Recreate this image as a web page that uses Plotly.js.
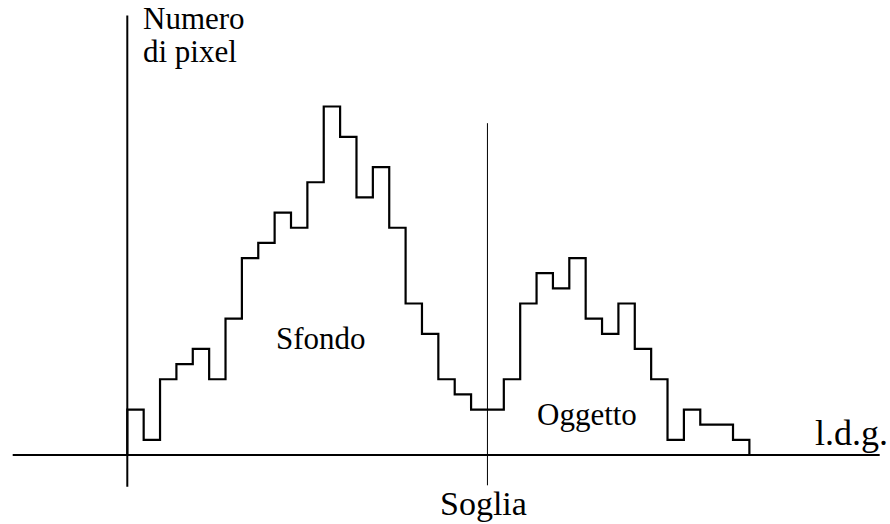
<!DOCTYPE html>
<html>
<head>
<meta charset="utf-8">
<script src="https://cdn.plot.ly/plotly-3.0.1.min.js"></script>
<style>html,body{margin:0;padding:0;background:#fff}#chart{width:890px;height:524px}</style>
</head>
<body>
<div id="chart"></div>
<script>
// gray levels (bin index) and pixel counts
const counts = [3,1,5,6,7,5,9,13,14,16,15,18,23,21,17,19,15,10,8,5,4,3,3,5,10,12,11,13,9,8,10,7,5,1,3,2,2,1];
const threshold = 22;
const yTitle = ["Numero", "di pixel"];
const xTitle = "l.d.g.";
const thresholdLabel = "Soglia";
const regionLabels = ["Sfondo", "Oggetto"];

const xs = [0], ys = [0];
counts.forEach((c, i) => { xs.push(i); ys.push(c); });
xs.push(counts.length); ys.push(0);

const serif = "Liberation Serif";
const trace = {
  x: xs, y: ys, type: "scatter", mode: "lines",
  line: {shape: "hv", color: "#000", width: 2.2},
  hoverinfo: "skip"
};

function label(text, px, py, size, anchor) {
  return {xref: "paper", yref: "paper", x: px / 890, y: 1 - py / 524, text: text,
    showarrow: false, xanchor: anchor, yanchor: "middle", borderpad: 0,
    font: {family: serif, size: size, color: "#000"}};
}

const layout = {
  width: 890, height: 524,
  margin: {l: 0, r: 0, t: 0, b: 0},
  paper_bgcolor: "#fff", plot_bgcolor: "#fff",
  showlegend: false,
  xaxis: {visible: false, range: [-7.776, 46.59], fixedrange: true},
  yaxis: {visible: false, range: [-4.554, 30.03], fixedrange: true},
  shapes: [
    {type: "line", xref: "x", yref: "y", x0: -7.0, x1: 45.96, y0: 0, y1: 0, line: {color: "#000", width: 2}},
    {type: "line", xref: "x", yref: "y", x0: 0, x1: 0, y0: -2.1, y1: 29.0, line: {color: "#000", width: 2}},
    {type: "line", xref: "x", yref: "y", x0: threshold, x1: threshold, y0: -2.0, y1: 21.9, line: {color: "#000", width: 1}}
  ],
  annotations: [
    label(yTitle[0], 142, 18.5, 31, "left"),
    label(yTitle[1], 142, 51.5, 31, "left"),
    label(xTitle, 814, 433, 36, "left"),
    label(thresholdLabel, 483.5, 503.5, 34, "center"),
    label(regionLabels[0], 321, 338.5, 31, "center"),
    label(regionLabels[1], 587, 414.5, 31, "center")
  ]
};

Plotly.newPlot("chart", [trace], layout, {displayModeBar: false, staticPlot: true});
</script>
</body>
</html>
